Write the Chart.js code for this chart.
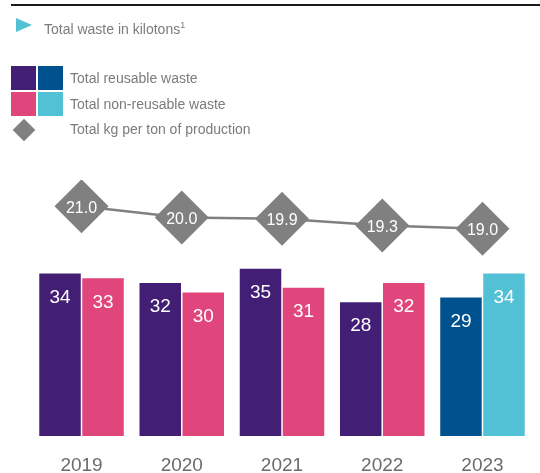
<!DOCTYPE html>
<html>
<head>
<meta charset="utf-8">
<script src="https://cdn.jsdelivr.net/npm/chart.js@4/dist/chart.umd.min.js"></script>
<style>
  html, body { margin: 0; padding: 0; background: #fff; }
  body { width: 540px; height: 473px; position: relative; overflow: hidden; font-family: "Liberation Sans", Arial, sans-serif; }
  #wrap { position: absolute; left: 0; top: 0; width: 540px; height: 473px; }
  .rule { position: absolute; left: 11px; right: 0; top: 4px; height: 2px; background: #1a1a1a; }
  .txt { position: absolute; font-size: 14px; color: #7b7b7b; white-space: nowrap; line-height: 16px; }
  .sw { position: absolute; width: 25px; height: 24px; }
  .diamond { position: absolute; left: 16px; top: 122px; width: 16px; height: 16px; background: #808080; transform: rotate(45deg); }
  sup { font-size: 9px; vertical-align: 6px; }
</style>
</head>
<body>
<div id="wrap"><canvas id="chart" width="540" height="473"></canvas></div>
<div class="rule"></div>
<svg style="position:absolute;left:16px;top:18px" width="17" height="15"><polygon points="0,0 16,7 0,14" fill="#52c0d5"/></svg>
<div class="txt" style="left:44px;top:17px">Total waste in kilotons<sup>1</sup></div>

<div class="sw" style="left:11px;top:66px;background:#421f75"></div>
<div class="sw" style="left:38px;top:66px;background:#00528f"></div>
<div class="sw" style="left:11px;top:92px;background:#e0467c"></div>
<div class="sw" style="left:38px;top:92px;background:#52c0d5"></div>
<div class="diamond"></div>
<div class="txt" style="left:70px;top:70px">Total reusable waste</div>
<div class="txt" style="left:70px;top:96px">Total non-reusable waste</div>
<div class="txt" style="left:70px;top:121px">Total kg per ton of production</div>

<script>
const YEARS = ["2019", "2020", "2021", "2022", "2023"];
const REUSABLE = [34, 32, 35, 28, 29];
const NON_REUSABLE = [33, 30, 31, 32, 34];
const KG_PER_TON = [21.0, 20.0, 19.9, 19.3, 19.0];

const PURPLE = "#421f75";
const BLUE = "#00528f";
const PINK = "#e0467c";
const CYAN = "#52c0d5";
const GRAY = "#808080";

// last year is drawn in the blue/cyan palette
const reusableColors = YEARS.map((_, i) => (i === YEARS.length - 1 ? BLUE : PURPLE));
const nonReusableColors = YEARS.map((_, i) => (i === YEARS.length - 1 ? CYAN : PINK));

const valueLabels = {
  id: "valueLabels",
  afterDatasetsDraw(chart) {
    const ctx = chart.ctx;
    ctx.save();
    ctx.fillStyle = "#fff";
    ctx.textAlign = "center";
    ctx.textBaseline = "middle";
    chart.data.datasets.forEach((ds, di) => {
      const meta = chart.getDatasetMeta(di);
      meta.data.forEach((el, i) => {
        if (ds.type === "line") {
          ctx.font = "16px 'Liberation Sans', Arial, sans-serif";
          ctx.fillText(ds.data[i].toFixed(1), el.x, el.y + 2);
        } else {
          ctx.font = "19px 'Liberation Sans', Arial, sans-serif";
          ctx.fillText(String(ds.data[i]), el.x, el.y + 24);
        }
      });
    });
    ctx.restore();
  },
};

new Chart(document.getElementById("chart"), {
  data: {
    labels: YEARS,
    datasets: [
      {
        type: "line",
        label: "Total kg per ton of production",
        data: KG_PER_TON,
        yAxisID: "y2",
        order: 0,
        borderColor: GRAY,
        borderWidth: 2.5,
        backgroundColor: GRAY,
        pointStyle: "rectRot",
        pointRadius: 27,
        pointHoverRadius: 27,
        pointBorderWidth: 0,
        pointBackgroundColor: GRAY,
        tension: 0,
      },
      {
        type: "bar",
        label: "Total reusable waste",
        data: REUSABLE,
        yAxisID: "y",
        order: 1,
        backgroundColor: reusableColors,
        categoryPercentage: 0.858,
        barPercentage: 0.965,
      },
      {
        type: "bar",
        label: "Total non-reusable waste",
        data: NON_REUSABLE,
        yAxisID: "y",
        order: 1,
        backgroundColor: nonReusableColors,
        categoryPercentage: 0.858,
        barPercentage: 0.965,
      },
    ],
  },
  options: {
    responsive: false,
    animation: false,
    layout: { autoPadding: false, padding: { top: 180, left: 31.4, right: 7.4, bottom: 0 } },
    plugins: { legend: { display: false }, tooltip: { enabled: false } },
    scales: {
      x: {
        grid: { display: false, drawTicks: false },
        border: { display: false },
        ticks: { color: "#6b6b6b", font: { size: 19, family: "'Liberation Sans', Arial, sans-serif" }, padding: 18 },
        afterFit: (s) => { s.height = 37; },
      },
      y: { display: false, min: 0, max: 53.56 },
      y2: { display: false, min: 0.58, max: 23.34 },
    },
  },
  plugins: [valueLabels],
});
</script>
</body>
</html>
